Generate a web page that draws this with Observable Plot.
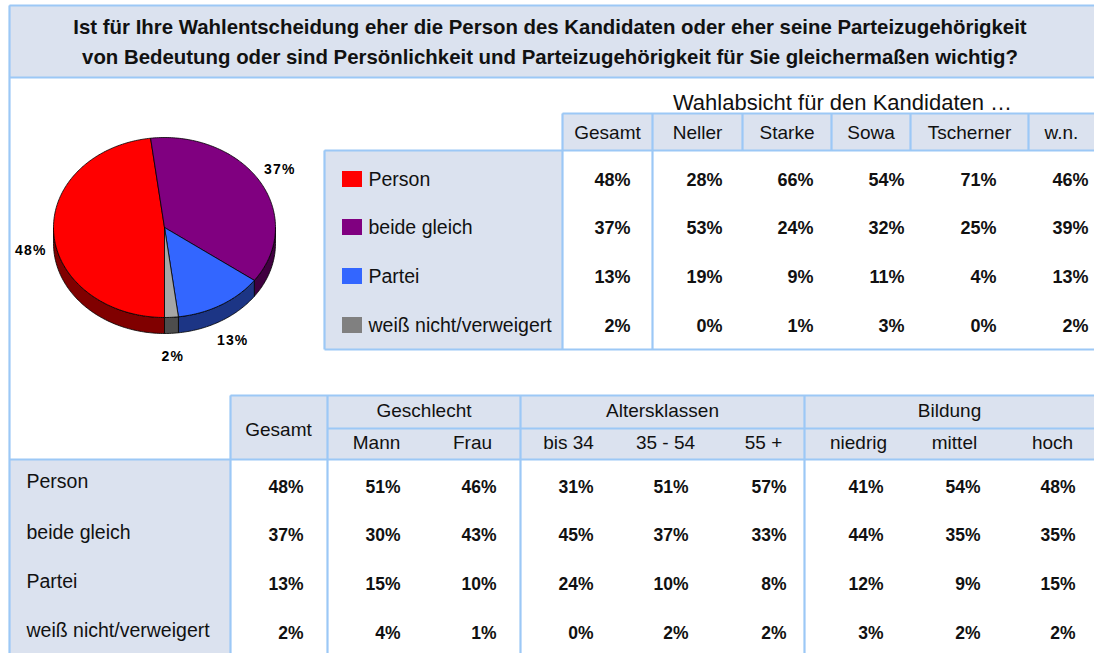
<!DOCTYPE html>
<html>
<head>
<meta charset="utf-8">
<script src="https://cdn.jsdelivr.net/npm/d3@7"></script>
<script src="https://cdn.jsdelivr.net/npm/@observablehq/plot@0.6"></script>
<style>
  html, body { margin: 0; padding: 0; background: #ffffff; }
  #chart svg { display: block; }
</style>
</head>
<body>
<div id="chart"></div>
<script>
// ---------------- DATA ----------------
const titleLines = [
  "Ist für Ihre Wahlentscheidung eher die Person des Kandidaten oder eher seine Parteizugehörigkeit",
  "von Bedeutung oder sind Persönlichkeit und Parteizugehörigkeit für Sie gleichermaßen wichtig?"
];
const categories = ["Person", "beide gleich", "Partei", "weiß nicht/verweigert"];
const pieValues = [48, 37, 13, 2];

const candidateTitle = "Wahlabsicht für den Kandidaten …";
const candidates = ["Gesamt", "Neller", "Starke", "Sowa", "Tscherner", "w.n."];
const gesamt = [48, 37, 13, 2];
const neller = [28, 53, 19, 0];
const starke = [66, 24, 9, 1];
const sowa = [54, 32, 11, 3];
const tscherner = [71, 25, 4, 0];
const wn = [46, 39, 13, 2];

const groups = ["Geschlecht", "Altersklassen", "Bildung"];
const subgroups = ["Mann", "Frau", "bis 34", "35 - 54", "55 +", "niedrig", "mittel", "hoch"];
const mann = [51, 30, 15, 4];
const frau = [46, 43, 10, 1];
const bis34 = [31, 45, 24, 0];
const alt35bis54 = [51, 37, 10, 2];
const alt55plus = [57, 33, 8, 2];
const niedrig = [41, 44, 12, 3];
const mittel = [54, 35, 9, 2];
const hoch = [48, 35, 15, 2];

// ---------------- STYLE / LAYOUT ----------------
const W = 1094, H = 653;
const LINE = "#9cc8f6";
const BG = "#dbe2ef";
const FONT = "Liberation Sans, Arial, sans-serif";
const topColors = ["#ff0000", "#800080", "#3366ff", "#a6a6a6"];
const sideColors = ["#800000", "#400040", "#1c3585", "#4d4d4d"];
const legendColors = ["#ff0000", "#800080", "#3366ff", "#808080"];

// pie geometry
const pie = {cx: 164, cy: 227, rx: 111, ry: 90, depth: 16, start: 180};

// top table layout
const topEdges = [562, 652, 742, 831, 910, 1028, 1094];
const topValRight = [630, 722, 813, 904, 996, 1088];
const topRowY = [180, 228, 277, 326];
const topHeadY = 132;

// bottom table layout
const botGroupEdges = [327, 520, 804, 1094];
const botSubCenter = [376, 472, 568, 665, 763, 858, 954, 1052];
const botValRight = [303, 400, 496, 593, 688, 786, 883, 980, 1075];
const botValY = [487, 535, 584, 633];
const botLabY = [481, 532, 581, 630];

// ---------------- DERIVED ----------------
const topSeries = [gesamt, neller, starke, sowa, tscherner, wn];
const botSeries = [gesamt, mann, frau, bis34, alt35bis54, alt55plus, niedrig, mittel, hoch];

const rad = d => d * Math.PI / 180;
const ept = (a, dy = 0) => ({x: pie.cx + pie.rx * Math.sin(rad(a)), y: pie.cy - pie.ry * Math.cos(rad(a)) + dy});

const total = d3.sum(pieValues);
let acc = pie.start;
const slices = pieValues.map((v, i) => {
  const a0 = acc, a1 = acc + v / total * 360;
  acc = a1;
  return {i, v, a0, a1};
});

const topPolys = slices.map(s => {
  const pts = [{x: pie.cx, y: pie.cy}];
  const n = Math.max(2, Math.ceil(s.a1 - s.a0));
  for (let k = 0; k <= n; k++) pts.push(ept(s.a0 + (s.a1 - s.a0) * k / n));
  pts.push({x: pie.cx, y: pie.cy});
  return {i: s.i, pts};
});

const sidePolys = [];
slices.forEach(s => {
  for (const off of [0, 360]) {
    const lo = Math.max(s.a0, 90 + off), hi = Math.min(s.a1, 270 + off);
    if (hi > lo) {
      const pts = [];
      const n = Math.max(2, Math.ceil(hi - lo));
      for (let k = 0; k <= n; k++) pts.push(ept(lo + (hi - lo) * k / n));
      for (let k = n; k >= 0; k--) pts.push(ept(lo + (hi - lo) * k / n, pie.depth));
      pts.push(pts[0]);
      sidePolys.push({i: s.i, pts});
    }
  }
});

const pieLabels = slices.map(s => {
  const m = (s.a0 + s.a1) / 2;
  const c = Math.cos(rad(m));
  return {
    x: pie.cx + (pie.rx + 23) * Math.sin(rad(m)),
    y: pie.cy - (pie.ry + 23) * c + (c < 0 ? pie.depth : 0),
    text: s.v + "%"
  };
});

// text records
const topHeads = candidates.map((c, j) => ({x: (topEdges[j] + topEdges[j + 1]) / 2, y: topHeadY, text: c}));
const topVals = topSeries.flatMap((ser, j) => ser.map((v, i) => ({x: topValRight[j], y: topRowY[i], text: v + "%"})));
const legendRows = categories.map((c, i) => ({x: 368, y: topRowY[i] - 1, text: c, color: legendColors[i]}));

const groupHeads = groups.map((g, k) => ({x: (botGroupEdges[k] + botGroupEdges[k + 1]) / 2, y: 410, text: g}));
const subHeads = subgroups.map((s, k) => ({x: botSubCenter[k], y: 442, text: s}));
const botVals = botSeries.flatMap((ser, j) => ser.map((v, i) => ({x: botValRight[j], y: botValY[i], text: v + "%"})));
const botLabels = categories.map((c, i) => ({x: 26, y: botLabY[i], text: c}));

// background rectangles
const rects = [
  {x1: 9, x2: W, y1: 5, y2: 77},
  {x1: topEdges[0], x2: W, y1: 113, y2: 150},
  {x1: 324, x2: topEdges[0], y1: 150, y2: 349},
  {x1: 230, x2: W, y1: 395, y2: 459},
  {x1: 9, x2: 230, y1: 459, y2: H}
];

// border segments
const segs = [
  {x1: 9, y1: 5, x2: W, y2: 5},
  {x1: 9, y1: 77, x2: W, y2: 77},
  {x1: 9, y1: 5, x2: 9, y2: H},
  {x1: topEdges[0], y1: 113, x2: W, y2: 113},
  {x1: 324, y1: 150, x2: W, y2: 150},
  {x1: 324, y1: 349, x2: W, y2: 349},
  {x1: 324, y1: 150, x2: 324, y2: 349},
  ...topEdges.slice(0, 6).map(e => ({x1: e, y1: 113, x2: e, y2: 150})),
  {x1: topEdges[0], y1: 150, x2: topEdges[0], y2: 349},
  {x1: topEdges[1], y1: 150, x2: topEdges[1], y2: 349},
  {x1: 230, y1: 395, x2: W, y2: 395},
  {x1: botGroupEdges[0], y1: 428, x2: W, y2: 428},
  {x1: 9, y1: 459, x2: W, y2: 459},
  {x1: 230, y1: 395, x2: 230, y2: H},
  ...botGroupEdges.slice(0, 3).map(e => ({x1: e, y1: 395, x2: e, y2: H}))
];

const plot = Plot.plot({
  width: W,
  height: H,
  margin: 0,
  x: {domain: [0, W], range: [0, W], axis: null},
  y: {domain: [0, H], range: [0, H], axis: null},
  style: {fontFamily: FONT, background: "#ffffff", color: "#000"},
  marks: [
    Plot.rect(rects, {x1: "x1", x2: "x2", y1: "y1", y2: "y2", fill: BG}),
    Plot.link(segs, {x1: "x1", y1: "y1", x2: "x2", y2: "y2", stroke: LINE, strokeWidth: 2.2}),
    Plot.text(titleLines, {x: () => (9 + W) / 2 - 2, y: (d, i) => 27 + i * 30, text: d => d, fontSize: 20.4, fontWeight: "bold", fill: "#111"}),
    ...sidePolys.map(p => Plot.line(p.pts, {x: "x", y: "y", fill: sideColors[p.i], stroke: "#000", strokeWidth: 0.8, curve: "linear"})),
    ...topPolys.map(p => Plot.line(p.pts, {x: "x", y: "y", fill: topColors[p.i], stroke: "#000", strokeWidth: 0.8, curve: "linear"})),
    Plot.text(pieLabels, {x: "x", y: "y", text: "text", fontSize: 14, fontWeight: "bold", fill: "#000"}),
    Plot.text([candidateTitle], {x: () => 842, y: () => 102, text: d => d, fontSize: 22, fill: "#111"}),
    Plot.text(topHeads, {x: "x", y: "y", text: "text", fontSize: 19, fill: "#111"}),
    Plot.rect(legendRows, {x1: () => 342, x2: () => 362, y1: d => d.y - 8, y2: d => d.y + 8, fill: "color"}),
    Plot.text(legendRows, {x: "x", y: "y", text: "text", fontSize: 19.5, textAnchor: "start", fill: "#111"}),
    Plot.text(topVals, {x: "x", y: "y", text: "text", fontSize: 18, fontWeight: "bold", textAnchor: "end", fill: "#111"}),
    Plot.text(["Gesamt"], {x: () => 278, y: () => 429, text: d => d, fontSize: 19, fill: "#111"}),
    Plot.text(groupHeads, {x: "x", y: "y", text: "text", fontSize: 19, fill: "#111"}),
    Plot.text(subHeads, {x: "x", y: "y", text: "text", fontSize: 19, fill: "#111"}),
    Plot.text(botLabels, {x: "x", y: "y", text: "text", fontSize: 19.5, textAnchor: "start", fill: "#111"}),
    Plot.text(botVals, {x: "x", y: "y", text: "text", fontSize: 17.5, fontWeight: "bold", textAnchor: "end", fill: "#111"})
  ]
});
d3.select(plot).selectAll('g[font-size="14"] text').attr("letter-spacing", "1.2");
document.getElementById("chart").appendChild(plot);
</script>
</body>
</html>
